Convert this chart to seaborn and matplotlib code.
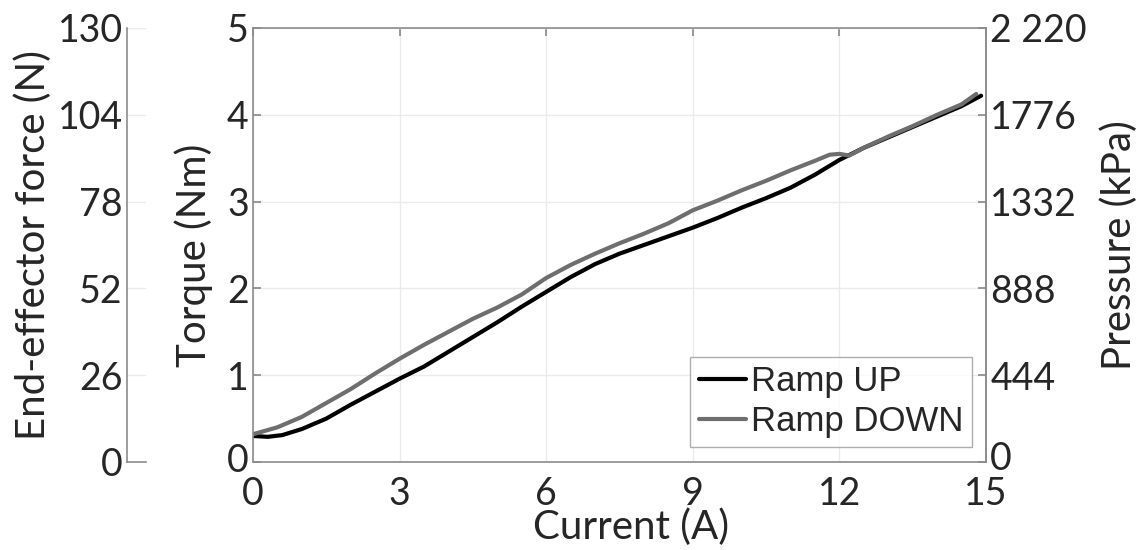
import numpy as np
import pandas as pd
import seaborn as sns
import matplotlib
matplotlib.use("Agg")
import matplotlib.pyplot as plt
import matplotlib.transforms as mtransforms

# ---- data ----
current_up = [0.0, 0.3, 0.6, 1.0, 1.5, 2.0, 2.5, 3.0, 3.5, 4.0, 4.5, 5.0, 5.5, 6.0,
              6.5, 7.0, 7.5, 8.0, 8.5, 9.0, 9.5, 10.0, 10.5, 11.0, 11.5, 12.0,
              12.5, 13.0, 13.5, 14.0, 14.5, 14.9]
torque_up = [0.30, 0.29, 0.31, 0.38, 0.50, 0.66, 0.81, 0.96, 1.10, 1.27, 1.44, 1.61,
             1.79, 1.96, 2.13, 2.28, 2.40, 2.50, 2.60, 2.70, 2.81, 2.93, 3.04, 3.16,
             3.31, 3.48, 3.62, 3.74, 3.86, 3.98, 4.10, 4.22]
current_down = [0.0, 0.5, 1.0, 1.5, 2.0, 2.5, 3.0, 3.5, 4.0, 4.5, 5.0, 5.5, 6.0, 6.5,
                7.0, 7.5, 8.0, 8.5, 9.0, 9.5, 10.0, 10.5, 11.0, 11.5, 11.8, 12.0,
                12.2, 12.5, 13.0, 13.5, 14.0, 14.5, 14.8]
torque_down = [0.32, 0.40, 0.52, 0.68, 0.84, 1.02, 1.19, 1.35, 1.50, 1.65, 1.78, 1.93,
               2.12, 2.27, 2.40, 2.52, 2.63, 2.75, 2.90, 3.01, 3.13, 3.24, 3.36, 3.47,
               3.54, 3.55, 3.53, 3.62, 3.75, 3.87, 4.00, 4.12, 4.24]
series_names = ["Ramp UP", "Ramp DOWN"]
current_ticks = [0, 3, 6, 9, 12, 15]
torque_ticks = [0, 1, 2, 3, 4, 5]
force_ticks = [0, 26, 52, 78, 104, 130]
pressure_ticks = [0, 444, 888, 1332, 1776, 2220]
pressure_labels = ["0", "444", "888", "1332", "1776", "2 220"]

df = pd.concat([
    pd.DataFrame({"Current": current_up, "Torque": torque_up, "Series": series_names[0]}),
    pd.DataFrame({"Current": current_down, "Torque": torque_down, "Series": series_names[1]}),
], ignore_index=True)

sns.set_theme(style="white")
plt.rcParams["font.family"] = ["Lato", "DejaVu Sans"]

FS = 27      # tick labels
LFS = 29     # axis labels
spine_c = "#8c8c8c"
grid_c = "#ebebeb"

fig = plt.figure(figsize=(11.4, 5.5), dpi=100)
L, R, B, T = 253 / 1140, 986 / 1140, 1 - 462 / 550, 1 - 28 / 550
ax = fig.add_axes([L, B, R - L, T - B])

sns.lineplot(data=df, x="Current", y="Torque", hue="Series", sort=False,
             palette={"Ramp UP": "#000000", "Ramp DOWN": "#6e6e6e"},
             linewidth=3.0, ax=ax, estimator=None)

ax.set_xlim(0, 15)
ax.set_ylim(0, 5)
ax.set_xticks(current_ticks)
ax.set_yticks(torque_ticks)
ax.grid(True, color=grid_c, linewidth=1.0)
ax.tick_params(axis="both", direction="in", length=6, color=spine_c, labelsize=FS,
               top=True)
ax.tick_params(axis="x", pad=10)
ax.tick_params(axis="y", pad=3)
for s in ["left", "bottom", "right", "top"]:
    ax.spines[s].set_color(spine_c)
    ax.spines[s].set_linewidth(1.2)
ax.set_xlabel("Current (A)", fontsize=LFS)
ax.xaxis.set_label_coords(0.516, -0.108)
ax.set_ylabel("Torque (Nm)", fontsize=LFS)
ax.yaxis.set_label_coords(-0.054, 0.477)

leg = ax.legend(loc="lower right", bbox_to_anchor=(0.981, 0.035), borderaxespad=0,
                fontsize=25, frameon=True, fancybox=False,
                handlelength=1.35, handletextpad=0.15, borderpad=0.25,
                labelspacing=0.2)
leg.get_frame().set_edgecolor("#999999")
leg.get_frame().set_linewidth(1.0)
for t in leg.get_texts():
    t.set_fontfamily(["Liberation Sans", "DejaVu Sans"])

# right pressure axis
axr = ax.twinx()
axr.set_ylim(0, 2220)
axr.set_yticks(pressure_ticks)
axr.set_yticklabels(pressure_labels)
axr.tick_params(direction="in", length=6, color=spine_c, labelsize=FS, pad=3)
for s in ["left", "bottom", "top"]:
    axr.spines[s].set_visible(False)
axr.spines["right"].set_color(spine_c)
axr.spines["right"].set_linewidth(1.2)
axr.set_ylabel("Pressure (kPa)", fontsize=LFS, labelpad=10)
axr.grid(False)
# lift the bottom "0" labels a little, as in the reference
for lab, dy in ((axr.get_yticklabels()[0], 7), (ax.get_yticklabels()[0], 4)):
    lab.set_transform(lab.get_transform() +
                      mtransforms.ScaledTranslation(0, dy / 100, fig.dpi_scale_trans))

# left end-effector force axis
axf = fig.add_axes([127 / 1140, B, 19 / 1140, T - B])
axf.set_ylim(0, 130)
axf.set_yticks(force_ticks)
axf.set_xticks([])
axf.grid(True, axis="y", color=grid_c, linewidth=1.0)
axf.tick_params(direction="in", length=6, color=spine_c, labelsize=FS, pad=3)
for s in ["top", "right"]:
    axf.spines[s].set_visible(False)
for s in ["left", "bottom"]:
    axf.spines[s].set_color(spine_c)
    axf.spines[s].set_linewidth(1.2)
axf.set_ylabel("End-effector force (N)", fontsize=LFS, labelpad=4)

fig.savefig("out.png", dpi=100, facecolor="white")
